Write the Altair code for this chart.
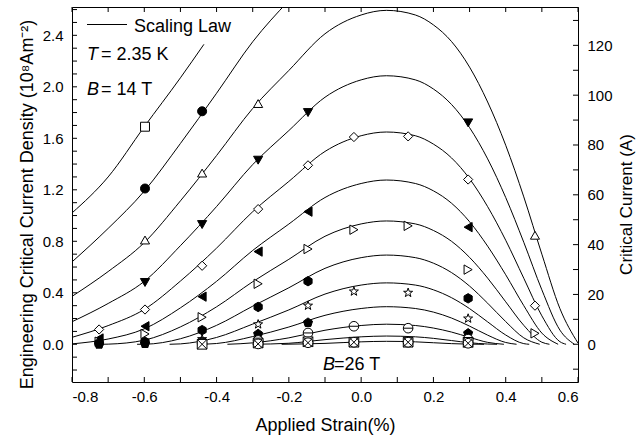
import altair as alt
import pandas as pd

FONT = "Liberation Sans"

# ---------------- scaling-law curves (strain in %, Jc in 1e8 A/m^2) ----------------
c14_s = [-0.8, -0.7, -0.6, -0.5, -0.435]
c14_j = [1.02, 1.30, 1.69, 2.07, 2.33]

c15_s = [-0.8, -0.7, -0.6, -0.5, -0.4, -0.3, -0.2]
c15_j = [0.64, 0.90, 1.19, 1.56, 1.95, 2.35, 2.67]

c16_s = [-0.8, -0.7, -0.6, -0.5, -0.4, -0.3, -0.2, -0.1, 0.0, 0.07, 0.15, 0.2, 0.25, 0.3, 0.35, 0.4, 0.45, 0.5, 0.55, 0.6]
c16_j = [0.372, 0.565, 0.79, 1.114, 1.466, 1.832, 2.127, 2.412, 2.558, 2.594, 2.558, 2.481, 2.352, 2.153, 1.882, 1.546, 1.145, 0.700, 0.277, 0.009]

c17_s = [-0.8, -0.7, -0.6, -0.5, -0.4, -0.3, -0.2, -0.1, 0.0, 0.07, 0.15, 0.2, 0.25, 0.3, 0.35, 0.4, 0.45, 0.5, 0.55, 0.59]
c17_j = [0.175, 0.317, 0.489, 0.766, 1.070, 1.396, 1.660, 1.919, 2.054, 2.086, 2.054, 1.983, 1.863, 1.683, 1.440, 1.140, 0.792, 0.423, 0.110, 0.0]

c18_s = [-0.8, -0.7, -0.6, -0.5, -0.4, -0.3, -0.2, -0.1, 0.0, 0.07, 0.15, 0.2, 0.25, 0.3, 0.35, 0.4, 0.45, 0.5, 0.55, 0.567]
c18_j = [0.054, 0.145, 0.271, 0.491, 0.747, 1.030, 1.265, 1.498, 1.620, 1.649, 1.620, 1.555, 1.448, 1.286, 1.069, 0.808, 0.513, 0.221, 0.020, 0.0]

c19_s = [-0.8, -0.7, -0.6, -0.5, -0.4, -0.3, -0.2, -0.1, 0.0, 0.07, 0.15, 0.2, 0.25, 0.3, 0.35, 0.4, 0.45, 0.5, 0.545]
c19_j = [0.003, 0.041, 0.120, 0.283, 0.489, 0.729, 0.934, 1.140, 1.249, 1.276, 1.249, 1.192, 1.096, 0.952, 0.762, 0.540, 0.300, 0.087, 0.0]

c20_s = [-0.72, -0.7, -0.6, -0.5, -0.4, -0.3, -0.2, -0.1, 0.0, 0.07, 0.15, 0.2, 0.25, 0.3, 0.35, 0.4, 0.45, 0.5, 0.521]
c20_j = [0.0, 0.001, 0.032, 0.135, 0.291, 0.486, 0.660, 0.839, 0.935, 0.958, 0.935, 0.884, 0.800, 0.675, 0.514, 0.330, 0.147, 0.016, 0.0]

c21_s = [-0.62, -0.6, -0.5, -0.4, -0.3, -0.2, -0.1, 0.0, 0.07, 0.15, 0.2, 0.25, 0.3, 0.35, 0.4, 0.45, 0.494]
c21_j = [0.0, 0.0003, 0.043, 0.147, 0.296, 0.439, 0.590, 0.673, 0.693, 0.673, 0.630, 0.557, 0.452, 0.319, 0.176, 0.050, 0.0]

c22_s = [-0.53, -0.5, -0.4, -0.3, -0.2, -0.1, 0.0, 0.07, 0.15, 0.2, 0.25, 0.3, 0.35, 0.4, 0.45, 0.465]
c22_j = [0.0, 0.003, 0.053, 0.157, 0.267, 0.390, 0.460, 0.477, 0.460, 0.423, 0.362, 0.277, 0.174, 0.072, 0.005, 0.0]

c23_s = [-0.45, -0.4, -0.3, -0.2, -0.1, 0.0, 0.07, 0.15, 0.2, 0.25, 0.3, 0.35, 0.4, 0.43]
c23_j = [0.0, 0.006, 0.060, 0.134, 0.225, 0.278, 0.292, 0.278, 0.250, 0.204, 0.141, 0.071, 0.014, 0.0]

c24_s = [-0.37, -0.3, -0.2, -0.1, 0.0, 0.07, 0.15, 0.2, 0.25, 0.3, 0.35, 0.395]
c24_j = [0.0, 0.011, 0.050, 0.109, 0.146, 0.156, 0.146, 0.126, 0.095, 0.054, 0.015, 0.0]

c25_s = [-0.30, -0.2, -0.1, 0.0, 0.07, 0.15, 0.2, 0.25, 0.3, 0.35, 0.376]
c25_j = [0.0, 0.008, 0.036, 0.058, 0.064, 0.058, 0.046, 0.029, 0.012, 0.002, 0.0]

c26_s = [-0.22, -0.1, 0.0, 0.07, 0.15, 0.2, 0.25, 0.3, 0.34]
c26_j = [0.0, 0.007, 0.019, 0.023, 0.019, 0.012, 0.005, 0.001, 0.0]

# ---------------- measured points ----------------
m14_s = [-0.598]
m14_j = [1.69]
m15_s = [-0.598, -0.44]
m15_j = [1.21, 1.81]
m16_s = [-0.598, -0.44, -0.285, 0.481]
m16_j = [0.81, 1.33, 1.87, 0.847]
m17_s = [-0.598, -0.44, -0.285, -0.147, 0.296]
m17_j = [0.48, 0.93, 1.43, 1.80, 1.72]
m18_s = [-0.725, -0.598, -0.44, -0.285, -0.147, -0.02, 0.13, 0.296, 0.481]
m18_j = [0.115, 0.27, 0.61, 1.05, 1.39, 1.61, 1.615, 1.28, 0.30]
m19_s = [-0.725, -0.598, -0.44, -0.285, -0.147, 0.296]
m19_j = [0.045, 0.14, 0.37, 0.72, 1.03, 0.91]
m20_s = [-0.725, -0.598, -0.44, -0.285, -0.147, -0.02, 0.13, 0.296, 0.481]
m20_j = [0.02, 0.08, 0.21, 0.47, 0.74, 0.89, 0.92, 0.58, 0.085]
m21_s = [-0.725, -0.598, -0.44, -0.285, -0.147, 0.296]
m21_j = [0.01, 0.02, 0.11, 0.29, 0.49, 0.357]
m22_s = [-0.725, -0.598, -0.44, -0.285, -0.147, -0.02, 0.13, 0.296]
m22_j = [0.0, 0.005, 0.04, 0.155, 0.30, 0.41, 0.40, 0.20]
m23_s = [-0.725, -0.598, -0.44, -0.285, -0.147, 0.296]
m23_j = [0.0, 0.005, 0.02, 0.08, 0.168, 0.085]
m24_s = [-0.44, -0.285, -0.147, -0.02, 0.13, 0.296]
m24_j = [0.005, 0.03, 0.088, 0.14, 0.125, 0.04]
m25_s = [-0.44, -0.285, -0.147, -0.02, 0.13, 0.296]
m25_j = [0.0, 0.01, 0.02, 0.016, 0.016, 0.015]
m26_s = [-0.285, -0.147, -0.02, 0.13, 0.296]
m26_j = [0.003, 0.012, 0.016, 0.016, 0.008]

fields = ["14 T", "15 T", "16 T", "17 T", "18 T", "19 T", "20 T",
          "21 T", "22 T", "23 T", "24 T", "25 T", "26 T"]

# axis tick positions
x_major = [-0.8, -0.6, -0.4, -0.2, 0.0, 0.2, 0.4, 0.6]
x_ticks = [-0.8, -0.7, -0.6, -0.5, -0.4, -0.3, -0.2, -0.1, 0.0, 0.1, 0.2, 0.3, 0.4, 0.5, 0.6]
y_major = [0.0, 0.4, 0.8, 1.2, 1.6, 2.0, 2.4]
y_ticks = [-0.2, -0.1, 0.0, 0.1, 0.2, 0.3, 0.4, 0.5, 0.6, 0.7, 0.8, 0.9, 1.0, 1.1, 1.2, 1.3,
           1.4, 1.5, 1.6, 1.7, 1.8, 1.9, 2.0, 2.1, 2.2, 2.3, 2.4, 2.5, 2.6]
i_major = [0, 20, 40, 60, 80, 100, 120]
i_ticks = [-10, 0, 10, 20, 30, 40, 50, 60, 70, 80, 90, 100, 110, 120, 130]

curves = [(c14_s, c14_j), (c15_s, c15_j), (c16_s, c16_j), (c17_s, c17_j), (c18_s, c18_j),
          (c19_s, c19_j), (c20_s, c20_j), (c21_s, c21_j), (c22_s, c22_j), (c23_s, c23_j),
          (c24_s, c24_j), (c25_s, c25_j), (c26_s, c26_j)]
meas = [(m14_s, m14_j), (m15_s, m15_j), (m16_s, m16_j), (m17_s, m17_j), (m18_s, m18_j),
        (m19_s, m19_j), (m20_s, m20_j), (m21_s, m21_j), (m22_s, m22_j), (m23_s, m23_j),
        (m24_s, m24_j), (m25_s, m25_j), (m26_s, m26_j)]

line_rows = []
for f, (xs, ys) in zip(fields, curves):
    for i, (a, b) in enumerate(zip(xs, ys)):
        line_rows.append({"B": f, "strain": a, "J": b, "order": i})
line_df = pd.DataFrame(line_rows)

pt_rows = []
for f, (xs, ys) in zip(fields, meas):
    for a, b in zip(xs, ys):
        pt_rows.append({"B": f, "strain": a, "J": b})
pt_df = pd.DataFrame(pt_rows)

# marker styles
CIRC = "M-1,0A1,1,0,1,1,1,0A1,1,0,1,1,-1,0Z"
HEX = "M0,-1L0.866,-0.5L0.866,0.5L0,1L-0.866,0.5L-0.866,-0.5Z"
PENT = "M0,-1L0.951,-0.309L0.588,0.809L-0.588,0.809L-0.951,-0.309Z"
STAR = ("M0,-1L0.235,-0.324L0.951,-0.309L0.380,0.124L0.588,0.809L0,0.4"
        "L-0.588,0.809L-0.380,0.124L-0.951,-0.309L-0.235,-0.324Z")
THETA = CIRC + "M-1,0L1,0"
XSQ = "M-1,-1L1,-1L1,1L-1,1ZM-1,-1L1,1M1,-1L-1,1"
XCIRC = CIRC + "M-0.707,-0.707L0.707,0.707M0.707,-0.707L-0.707,0.707"
shapes = ["square", "circle", "triangle-up", "triangle-down", "diamond", "triangle-left",
          "triangle-right", HEX, STAR, PENT, THETA, XSQ, XCIRC]
fills = ["white", "black", "white", "black", "white", "black", "white",
         "black", "white", "black", "white", "white", "white"]
sizes = [80, 95, 110, 110, 105, 110, 110, 95, 135, 95, 85, 75, 85]

J_DOM = [-0.293, 2.62]
I_DOM = [-15.15, 135.4]
X_DOM = [-0.8, 0.6]
W, H = 506, 375
TICK = 5
xs_scale = alt.Scale(domain=X_DOM, nice=False, zero=False)
ys_scale = alt.Scale(domain=J_DOM, nice=False, zero=False)
ic_scale = alt.Scale(domain=I_DOM, nice=False, zero=False)

fix_minus = "replace(datum.label, '\u2212', '-')"

lines = alt.Chart(line_df).mark_line(color="black", strokeWidth=1, interpolate="monotone", clip=True).encode(
    x=alt.X("strain:Q", scale=xs_scale,
            axis=alt.Axis(values=x_major, format=".1f", labelExpr=fix_minus, ticks=False, domain=False,
                          grid=False, title="Applied Strain(%)", labelPadding=7, titlePadding=12,
                          labelFontSize=15, titleFontSize=18)),
    y=alt.Y("J:Q", scale=ys_scale,
            axis=alt.Axis(values=y_major, format=".1f", ticks=False, domain=False, grid=False,
                          title="Engineering Critical Current Density (10⁸Am⁻²)", labelPadding=9,
                          titlePadding=6, labelFontSize=15, titleFontSize=18, titleY=197)),
    detail="B:N",
    order="order:Q",
)

points = alt.Chart(pt_df).mark_point(filled=True, stroke="black", strokeWidth=1, opacity=1).encode(
    x=alt.X("strain:Q", scale=xs_scale, axis=None),
    y=alt.Y("J:Q", scale=ys_scale, axis=None),
    shape=alt.Shape("B:N", scale=alt.Scale(domain=fields, range=shapes), legend=None),
    fill=alt.Fill("B:N", scale=alt.Scale(domain=fields, range=fills), legend=None),
    size=alt.Size("B:N", scale=alt.Scale(domain=fields, range=sizes), legend=None),
)

# right-hand current axis (labels + title)
right_axis = alt.Chart(pt_df).mark_point(opacity=0).encode(
    y=alt.Y("I:Q", scale=ic_scale,
            axis=alt.Axis(orient="right", values=i_major, format="d", ticks=False, domain=False, grid=False,
                          title="Critical Current (A)", titleAngle=270, labelPadding=9, titlePadding=23,
                          labelFontSize=15, titleFontSize=17, titleY=197)),
).transform_calculate(I="datum.J * 51.67")

# inward-pointing tick marks on all four sides
xt_df = pd.DataFrame({"v": x_ticks})
yt_df = pd.DataFrame({"v": y_ticks})
it_df = pd.DataFrame({"v": i_ticks})
tick_bottom = alt.Chart(xt_df).mark_rule(color="black", strokeWidth=1).encode(
    x=alt.X("v:Q", scale=xs_scale, axis=None), y=alt.value(H), y2=alt.value(H - TICK))
tick_top = alt.Chart(xt_df).mark_rule(color="black", strokeWidth=1).encode(
    x=alt.X("v:Q", scale=xs_scale, axis=None), y=alt.value(0), y2=alt.value(TICK))
tick_left = alt.Chart(yt_df).mark_rule(color="black", strokeWidth=1).encode(
    y=alt.Y("v:Q", scale=ys_scale, axis=None), x=alt.value(0), x2=alt.value(TICK))
tick_right = alt.Chart(it_df).mark_rule(color="black", strokeWidth=1).encode(
    y=alt.Y("v:Q", scale=ic_scale, axis=None), x=alt.value(W), x2=alt.value(W - TICK))

legend_line = alt.Chart(pd.DataFrame({"k": [0]})).mark_rule(color="black", strokeWidth=1).encode(
    x=alt.value(15), x2=alt.value(55), y=alt.value(17.5))


def txt(s, x, y, italic=False, align="left"):
    return alt.Chart(pd.DataFrame({"t": [s]})).mark_text(
        align=align, baseline="alphabetic", fontSize=18, font=FONT, color="black",
        fontStyle="italic" if italic else "normal").encode(
        x=alt.value(x), y=alt.value(y), text="t:N")


texts = [
    txt("Scaling Law", 62, 24.5),
    txt("T", 15, 53, italic=True),
    txt("= 2.35 K", 29, 53),
    txt("B", 15, 88, italic=True),
    txt("= 14 T", 29, 88),
    txt("B", 251, 363, italic=True),
    txt("=26 T", 262, 363),
]

chart = alt.layer(
    lines, points, right_axis, tick_bottom, tick_top, tick_left, tick_right, legend_line, *texts
).resolve_scale(
    x="independent", y="independent", shape="independent", fill="independent", size="independent"
).properties(
    width=W, height=H,
    autosize=alt.AutoSizeParams(type="none"),
    padding={"left": 72, "top": 7, "right": 60, "bottom": 57},
).configure_view(stroke="black", strokeWidth=1).configure_axis(
    labelFont=FONT, titleFont=FONT, labelColor="black", titleColor="black", tickColor="black",
    titleFontWeight="normal", tickWidth=1
)

chart.save("out.html", embed_options={"renderer": "svg", "actions": False})
